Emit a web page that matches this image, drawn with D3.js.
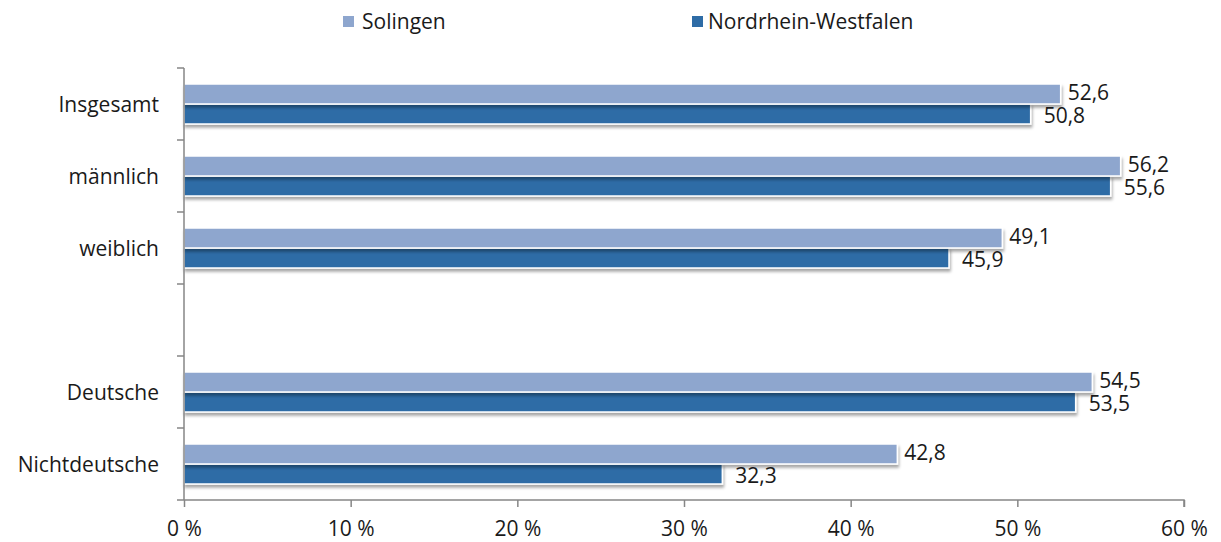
<!DOCTYPE html>
<html><head><meta charset="utf-8">
<script src="https://cdn.jsdelivr.net/npm/d3@7"></script>
<style>body{margin:0;background:#fff}text{font-family:"Open Sans",sans-serif;fill:#1a1a1a}</style>
</head><body>
<svg id="c" width="1221" height="542"></svg>
<script>
const categories = ["Insgesamt","männlich","weiblich","","Deutsche","Nichtdeutsche"];
const seriesNames = ["Solingen","Nordrhein-Westfalen"];
const solingen = [52.6,56.2,49.1,null,54.5,42.8];
const nrw = [50.8,55.6,45.9,null,53.5,32.3];
const xTicks = [0,10,20,30,40,50,60];
const colors = ["#8EA6CE","#2E6CA6"];

const FS = 21;
const svg = d3.select("#c");
const defs = svg.append("defs");
const f = defs.append("filter").attr("id","sh").attr("x","-5%").attr("y","-30%").attr("width","110%").attr("height","190%");
f.append("feDropShadow").attr("dx",1).attr("dy",3).attr("stdDeviation",1.6).attr("flood-color","#000").attr("flood-opacity",0.35);

const x = d3.scaleLinear().domain([0,60]).range([184,1184]);
const y = d3.scaleBand().domain(d3.range(categories.length)).range([68,500]).paddingInner(0).paddingOuter(0);
const inner = d3.scaleBand().domain([0,1]).range([16,56]).padding(0);

const data = [solingen,nrw];
const fmt = v => v.toFixed(1).replace(".",",");
const labelOffset = [7,13];
const labelShift = [-1.5,1.5];

categories.forEach((c,i)=>{
  if (c==="") return;
  const g = svg.append("g").attr("transform",`translate(0,${y(i)})`);
  [1,0].forEach(s=>{
    const v = data[s][i];
    g.append("rect").attr("x",x(0)).attr("y",inner(s)).attr("width",x(v)-x(0)).attr("height",inner.bandwidth())
      .attr("fill",colors[s]).attr("stroke","#fff").attr("stroke-width",1.5).attr("filter","url(#sh)");
  });
  [0,1].forEach(s=>{
    const v = data[s][i];
    g.append("text").attr("x",x(v)+labelOffset[s]).attr("y",inner(s)+inner.bandwidth()/2+labelShift[s]).attr("dy","0.36em")
      .attr("font-size",FS).text(fmt(v));
  });
  svg.append("text").attr("x",159).attr("y",y(i)+y.bandwidth()/2).attr("dy","0.36em").attr("text-anchor","end")
    .attr("font-size",FS).text(c);
});

const axisColor = "#868686";
svg.append("line").attr("x1",184).attr("x2",184).attr("y1",68).attr("y2",500).attr("stroke",axisColor).attr("stroke-width",1.5);
d3.range(categories.length+1).forEach(k=>{
  const yy = 68 + k*y.step();
  svg.append("line").attr("x1",177).attr("x2",184).attr("y1",yy).attr("y2",yy).attr("stroke",axisColor).attr("stroke-width",1.5);
});
const xa = svg.append("g").attr("transform","translate(0,500)").call(d3.axisBottom(x).tickValues(xTicks).tickSize(7).tickPadding(14).tickFormat(d=>d+" %"));
xa.select(".domain").attr("stroke",axisColor).attr("stroke-width",1.5).attr("d","M184,0H1184V7");
xa.selectAll(".tick line").attr("stroke",axisColor).attr("stroke-width",1.5);
xa.selectAll(".tick text").attr("font-size",FS).attr("fill","#1a1a1a").style("font-family","'Open Sans',sans-serif");

const legX = [343,692];
seriesNames.forEach((n,s)=>{
  svg.append("rect").attr("x",legX[s]).attr("y",16).attr("width",11).attr("height",11).attr("fill",colors[s]);
  svg.append("text").attr("x",legX[s]+(s===0?19:16)).attr("y",21).attr("dy","0.36em").attr("font-size",FS).text(n);
});
</script>
</body></html>
